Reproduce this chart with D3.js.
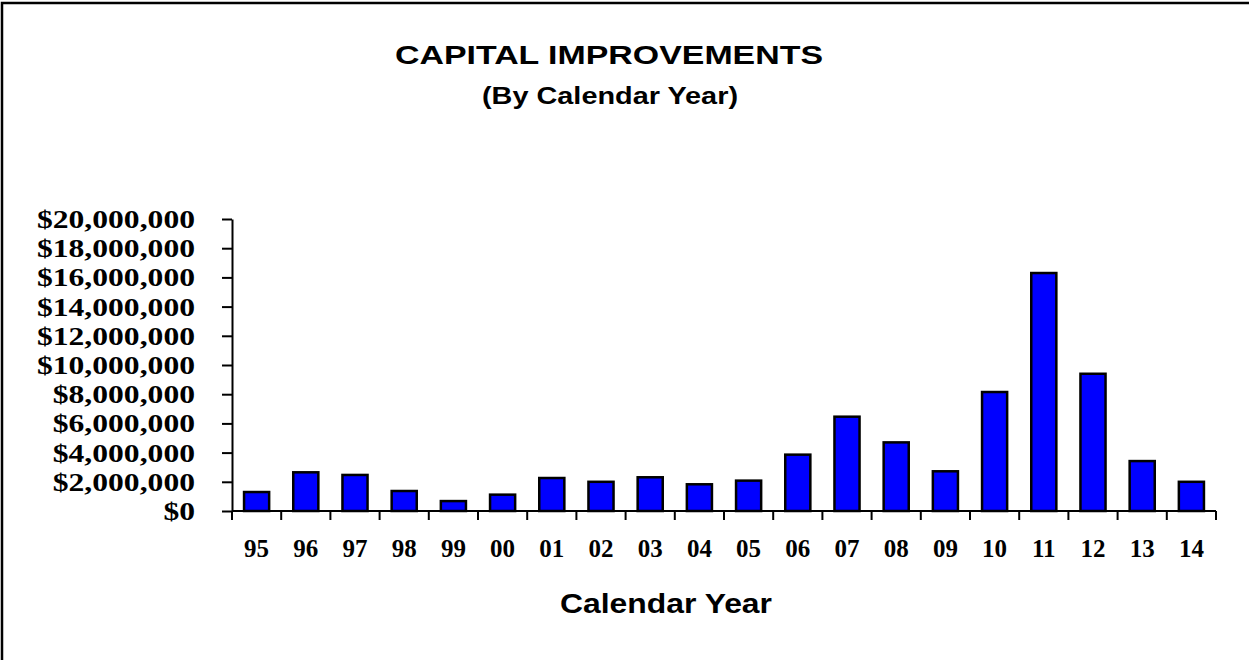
<!DOCTYPE html>
<html>
<head>
<meta charset="utf-8">
<script src="https://cdn.jsdelivr.net/npm/d3@7"></script>
<style>
  body { margin: 0; background: #fff; }
  svg { display: block; }
  .sans { font-family: "Liberation Sans", Arial, sans-serif; font-weight: bold; }
  .serif { font-family: "Liberation Serif", "Times New Roman", serif; font-weight: bold; }
</style>
</head>
<body>
<svg width="1249" height="660"></svg>
<script>
// data
var years = ["95", "96", "97", "98", "99", "00", "01", "02", "03", "04",
             "05", "06", "07", "08", "09", "10", "11", "12", "13", "14"];
var amounts = [1300000, 2650000, 2470000, 1370000, 680000, 1120000, 2260000, 2000000, 2310000, 1830000,
               2080000, 3860000, 6460000, 4700000, 2720000, 8150000, 16300000, 9400000, 3420000, 2000000];
var yTicks = [0, 2000000, 4000000, 6000000, 8000000, 10000000,
              12000000, 14000000, 16000000, 18000000, 20000000];

var svg = d3.select("svg"),
    width = 1249,
    height = 660,
    margin = { top: 219, right: 33, bottom: 149, left: 232 },
    dollar = d3.format("$,.0f");

var data = years.map(function(y, i) { return { year: y, value: amounts[i] }; });

// frame: only the top and left edges show
svg.append("path")
    .attr("d", "M2," + height + "V3H" + width)
    .style("fill", "none")
    .style("stroke", "#000")
    .style("stroke-width", 2.5);

// titles
svg.append("text")
    .attr("class", "sans")
    .attr("x", 609)
    .attr("y", 64)
    .attr("text-anchor", "middle")
    .attr("textLength", 428)
    .attr("lengthAdjust", "spacingAndGlyphs")
    .style("font-size", "26.5px")
    .text("CAPITAL IMPROVEMENTS");

svg.append("text")
    .attr("class", "sans")
    .attr("x", 610)
    .attr("y", 104)
    .attr("text-anchor", "middle")
    .attr("textLength", 256)
    .attr("lengthAdjust", "spacingAndGlyphs")
    .style("font-size", "23px")
    .text("(By Calendar Year)");

var x = d3.scaleBand()
    .domain(years)
    .range([margin.left, width - margin.right])
    .paddingInner(0.49)
    .paddingOuter(0.245);

var y = d3.scaleLinear()
    .domain([0, 20000000])
    .range([height - margin.bottom, margin.top]);

// bars
svg.append("g")
    .selectAll("rect")
    .data(data)
    .enter().append("rect")
    .attr("x", function(d) { return x(d.year); })
    .attr("y", function(d) { return y(d.value); })
    .attr("width", x.bandwidth())
    .attr("height", function(d) { return y(0) - y(d.value); })
    .style("fill", "#0000ff")
    .style("stroke", "#000")
    .style("stroke-width", 2.5);

// y axis
var yAxis = svg.append("g")
    .attr("transform", "translate(" + margin.left + ",0)")
    .call(d3.axisLeft(y)
        .tickValues(yTicks)
        .tickSize(10)
        .tickSizeOuter(0)
        .tickFormat(dollar));

yAxis.select(".domain").style("stroke-width", 2);
yAxis.selectAll(".tick line").style("stroke-width", 2);
yAxis.selectAll(".tick text")
    .attr("class", "serif")
    .attr("x", 0)
    .attr("dy", "0.33em")
    .attr("transform", "translate(-37,0) scale(1.24,1)")
    .style("font-size", "25.5px")
    .style("fill", "#000");

// x axis: labels from the band scale, ticks at band edges
var xAxis = svg.append("g")
    .attr("transform", "translate(0," + y(0) + ")")
    .call(d3.axisBottom(x).tickSize(0).tickPadding(28));

xAxis.select(".domain").remove();
xAxis.selectAll(".tick text")
    .attr("class", "serif")
    .style("font-size", "25px")
    .style("fill", "#000");

xAxis.append("line")
    .attr("x1", margin.left)
    .attr("x2", width - margin.right)
    .style("stroke", "#000")
    .style("stroke-width", 2);

var edges = years.map(function(d) { return x(d) + x.bandwidth() / 2 - x.step() / 2; });
edges.push(width - margin.right);

xAxis.selectAll(".edge")
    .data(edges)
    .enter().append("line")
    .attr("class", "edge")
    .attr("x1", function(d) { return d; })
    .attr("x2", function(d) { return d; })
    .attr("y1", 0)
    .attr("y2", 9)
    .style("stroke", "#000")
    .style("stroke-width", 2);

// x title
svg.append("text")
    .attr("class", "sans")
    .attr("x", 666)
    .attr("y", 613)
    .attr("text-anchor", "middle")
    .attr("textLength", 212)
    .attr("lengthAdjust", "spacingAndGlyphs")
    .style("font-size", "27px")
    .text("Calendar Year");
</script>
</body>
</html>
